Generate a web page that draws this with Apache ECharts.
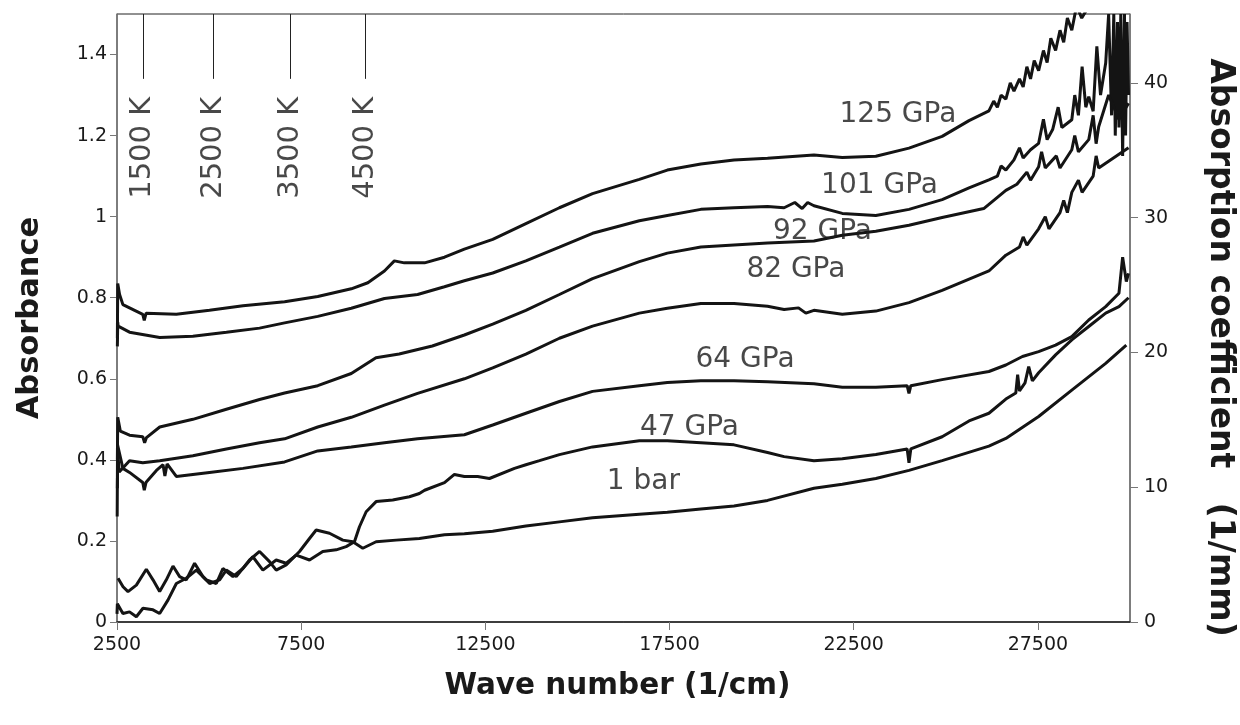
<!DOCTYPE html>
<html>
<head>
<meta charset="utf-8">
<script src="https://cdn.jsdelivr.net/npm/echarts@6/dist/echarts.min.js"></script>
<style>
html,body{margin:0;padding:0;background:#fff;}
#chart{width:1240px;height:725px;}
</style>
</head>
<body>
<div id="chart"></div>
<script>
// ---------- data (wave number cm^-1, absorbance) ----------
const xTicks = [2500, 7500, 12500, 17500, 22500, 27500];
const seriesNames = ['125 GPa','101 GPa','92 GPa','82 GPa','64 GPa','47 GPa','1 bar'];

const p125 = [[2510,0.70],[2520,0.835],[2570,0.808],[2660,0.783],[3200,0.759],[3240,0.744],[3290,0.762],[4110,0.759],[5010,0.769],[5920,0.780],[7050,0.790],[7950,0.803],[8860,0.822],[9310,0.837],[9760,0.866],[10030,0.891],[10300,0.886],[10850,0.886],[11390,0.900],[11930,0.920],[12700,0.944],[13600,0.983],[14510,1.022],[15410,1.057],[16680,1.092],[17440,1.115],[18350,1.130],[19250,1.140],[20160,1.144],[21420,1.152],[22190,1.146],[23100,1.149],[24000,1.169],[24900,1.198],[25630,1.237],[26170,1.261],[26300,1.285],[26400,1.270],[26500,1.300],[26630,1.290],[26750,1.330],[26850,1.310],[27000,1.340],[27100,1.320],[27200,1.370],[27300,1.340],[27400,1.385],[27520,1.360],[27650,1.410],[27750,1.380],[27850,1.440],[27980,1.410],[28100,1.460],[28200,1.430],[28300,1.490],[28420,1.460],[28550,1.520],[28690,1.490],[29150,1.56],[29960,1.60]];

const p101 = [[2510,0.68],[2520,0.74],[2530,0.730],[2840,0.715],[3660,0.702],[4560,0.705],[5470,0.715],[6370,0.725],[7050,0.738],[7950,0.754],[8860,0.774],[9760,0.798],[10660,0.808],[11390,0.827],[11930,0.842],[12700,0.861],[13600,0.891],[14510,0.925],[15410,0.959],[16680,0.990],[17440,1.003],[18350,1.018],[19250,1.022],[20160,1.025],[20610,1.022],[20900,1.035],[21100,1.020],[21250,1.035],[21420,1.027],[22190,1.008],[23100,1.003],[24000,1.018],[24900,1.042],[25630,1.071],[26170,1.091],[26400,1.100],[26500,1.125],[26630,1.115],[26850,1.140],[27000,1.170],[27100,1.145],[27300,1.165],[27520,1.181],[27650,1.240],[27750,1.190],[27900,1.215],[28050,1.270],[28150,1.220],[28420,1.239],[28500,1.300],[28600,1.250],[28700,1.370],[28800,1.270],[28880,1.296],[29000,1.26],[29100,1.42],[29200,1.30],[29340,1.379],[29420,1.50],[29500,1.25],[29560,1.50],[29600,1.20],[29660,1.48],[29700,1.22],[29750,1.50],[29800,1.15],[29850,1.50],[29880,1.20],[29920,1.48],[29960,1.30]];

const p92 = [[2510,0.40],[2520,0.505],[2590,0.471],[2840,0.461],[3200,0.457],[3250,0.442],[3300,0.455],[3660,0.481],[4560,0.500],[5470,0.525],[6370,0.549],[7050,0.565],[7950,0.583],[8860,0.613],[9530,0.652],[10160,0.661],[11060,0.681],[11930,0.708],[12700,0.735],[13600,0.769],[14510,0.808],[15410,0.847],[16680,0.889],[17440,0.910],[18350,0.925],[19250,0.930],[20160,0.935],[21420,0.940],[22190,0.954],[23100,0.964],[24000,0.979],[24900,0.998],[26030,1.020],[26630,1.065],[26930,1.080],[27200,1.110],[27300,1.090],[27520,1.123],[27600,1.160],[27700,1.120],[28000,1.150],[28100,1.120],[28420,1.165],[28500,1.200],[28600,1.160],[28880,1.19],[29000,1.25],[29080,1.18],[29150,1.222],[29420,1.30],[29700,1.24],[29960,1.28]];

const p82 = [[2510,0.33],[2520,0.42],[2560,0.37],[2840,0.398],[3200,0.393],[3660,0.398],[4560,0.410],[5470,0.427],[6370,0.442],[7050,0.452],[7950,0.481],[8860,0.505],[9760,0.535],[10660,0.564],[11930,0.600],[12700,0.627],[13600,0.661],[14510,0.700],[15410,0.730],[16680,0.762],[17440,0.774],[18350,0.786],[19250,0.786],[20160,0.779],[20610,0.771],[21000,0.775],[21200,0.762],[21420,0.769],[22190,0.759],[23100,0.767],[24000,0.788],[24900,0.818],[26170,0.866],[26630,0.905],[27000,0.925],[27100,0.950],[27200,0.930],[27520,0.970],[27700,1.000],[27800,0.970],[28100,1.010],[28200,1.040],[28300,1.010],[28420,1.060],[28600,1.090],[28700,1.060],[29000,1.100],[29080,1.150],[29150,1.120],[29960,1.170]];

const p64 = [[2505,0.26],[2515,0.437],[2660,0.379],[2840,0.369],[3200,0.344],[3240,0.325],[3290,0.345],[3570,0.374],[3750,0.388],[3800,0.360],[3860,0.390],[4110,0.359],[5010,0.369],[5920,0.379],[7050,0.395],[7950,0.422],[8860,0.432],[9760,0.442],[10660,0.452],[11930,0.462],[12700,0.486],[13600,0.515],[14510,0.544],[15410,0.569],[16680,0.583],[17440,0.591],[18350,0.595],[19250,0.595],[20160,0.593],[21420,0.588],[22190,0.579],[23100,0.579],[23950,0.583],[24000,0.564],[24050,0.583],[24900,0.598],[26170,0.618],[26630,0.634],[27080,0.655],[27520,0.667],[27980,0.683],[28420,0.704],[28880,0.745],[29340,0.778],[29700,0.811],[29800,0.900],[29900,0.840],[29960,0.860]];

const p47 = [[2500,0.020],[2510,0.045],[2660,0.021],[2840,0.025],[3025,0.013],[3205,0.034],[3477,0.030],[3658,0.021],[3883,0.054],[4111,0.095],[4381,0.108],[4653,0.128],[4925,0.104],[5196,0.095],[5375,0.132],[5646,0.112],[5917,0.132],[6188,0.161],[6460,0.128],[6822,0.153],[7093,0.145],[7365,0.165],[7726,0.153],[8087,0.174],[8450,0.178],[8721,0.186],[8946,0.198],[9082,0.235],[9264,0.272],[9534,0.297],[9985,0.301],[10438,0.309],[10709,0.317],[10850,0.325],[11390,0.344],[11660,0.364],[11930,0.359],[12290,0.359],[12610,0.354],[13290,0.379],[13600,0.388],[13970,0.398],[14510,0.413],[15410,0.432],[16680,0.447],[17440,0.447],[18350,0.442],[19250,0.437],[20160,0.418],[20610,0.408],[21420,0.398],[22190,0.403],[23100,0.413],[23950,0.427],[24000,0.393],[24050,0.427],[24900,0.457],[25630,0.496],[26170,0.515],[26630,0.550],[26900,0.565],[26950,0.610],[27000,0.570],[27150,0.590],[27250,0.630],[27350,0.595],[27520,0.615],[27980,0.659],[28420,0.696],[28880,0.729],[29340,0.762],[29700,0.778],[29960,0.800]];

const p1bar = [[2528,0.108],[2664,0.087],[2799,0.075],[3025,0.091],[3296,0.130],[3477,0.104],[3658,0.075],[3839,0.104],[4020,0.138],[4200,0.112],[4381,0.104],[4607,0.145],[4833,0.112],[5014,0.095],[5285,0.104],[5466,0.128],[5737,0.112],[6099,0.153],[6370,0.174],[6641,0.149],[6822,0.128],[7093,0.141],[7455,0.174],[7726,0.206],[7907,0.227],[8268,0.219],[8630,0.202],[8901,0.198],[9172,0.182],[9534,0.198],[10077,0.202],[10709,0.206],[11390,0.215],[11930,0.218],[12700,0.224],[13600,0.237],[14510,0.247],[15410,0.257],[16680,0.266],[17440,0.271],[18350,0.279],[19250,0.286],[20160,0.300],[21420,0.330],[22190,0.340],[23100,0.354],[24000,0.374],[24900,0.398],[26170,0.434],[26630,0.453],[27520,0.507],[28420,0.572],[29340,0.638],[29900,0.683]];

// curve labels: [wave number, absorbance, text]
const curveLabels = [[23700,1.251,'125 GPa'],[23200,1.076,'101 GPa'],[21650,0.962,'92 GPa'],[20930,0.868,'82 GPa'],[19550,0.648,'64 GPa'],[18040,0.479,'47 GPa'],[16790,0.345,'1 bar']];

// temperature markers (wave number of marker), label text
const tempX = [3200, 5110, 7210, 9250];
const tempText = ['1500 K','2500 K','3500 K','4500 K'];
const tempLineTop = 1.5, tempLineBottom = 1.34, tempLabelY = 1.17;

const allData = [p125, p101, p92, p82, p64, p47, p1bar];

const FONT = 'DejaVu Sans';
const INK = '#1a1a1a';
const chart = echarts.init(document.getElementById('chart'), null, {renderer:'canvas'});

const lineSeries = allData.map((d, i) => ({
  name: seriesNames[i],
  type: 'line',
  data: d,
  showSymbol: false,
  symbol: 'none',
  lineStyle: {color: '#141414', width: 3},
  silent: true,
  z: 3
}));

const option = {
  animation: false,
  backgroundColor: '#fff',
  grid: {left: 117, right: 110, top: 14, bottom: 103, outerBoundsMode: 'none', containLabel: false,
    show: true, borderColor: '#222', borderWidth: 1},
  xAxis: {
    type: 'value', min: 2500, max: 30000, interval: 5000,
    name: 'Wave number (1/cm)', nameLocation: 'middle', nameGap: 49,
    nameTextStyle: {fontFamily: FONT, fontWeight: 'bold', fontSize: 29.5, color: INK, padding: [0, 12, 0, 0]},
    axisLine: {show: true, lineStyle: {color: '#222', width: 1.5}},
    axisTick: {show: true, inside: false, length: 8, lineStyle: {color: '#777'}},
    axisLabel: {show: true, showMaxLabel: false, fontFamily: FONT, fontSize: 19, color: INK, margin: 14,
      formatter: v => String(v)},
    splitLine: {show: false}
  },
  yAxis: [{
    type: 'value', min: 0, max: 1.5, interval: 0.2, position: 'left',
    name: 'Absorbance', nameLocation: 'middle', nameGap: 71, nameRotate: 90,
    nameTextStyle: {fontFamily: FONT, fontWeight: 'bold', fontSize: 30.5, color: INK},
    axisLine: {show: true, lineStyle: {color: '#777', width: 1.5}},
    axisTick: {show: true, inside: false, length: 7, lineStyle: {color: '#777'}},
    axisLabel: {show: true, showMaxLabel: false, fontFamily: FONT, fontSize: 19, color: INK, margin: 10,
      formatter: v => String(Math.round(v*10)/10)},
    splitLine: {show: false}
  },{
    type: 'value', min: 0, max: 45.1, interval: 10, position: 'right',
    name: 'Absorption coefficient   (1/mm)', nameLocation: 'middle', nameGap: 73, nameRotate: -90,
    nameTextStyle: {fontFamily: FONT, fontWeight: 'bold', fontSize: 33, color: INK, padding: [0, 0, 0, 59]},
    axisLine: {show: true, lineStyle: {color: '#777', width: 1.5}},
    axisTick: {show: true, inside: false, length: 8, lineStyle: {color: '#777'}},
    axisLabel: {show: true, showMaxLabel: false, fontFamily: FONT, fontSize: 19, color: INK, margin: 14},
    splitLine: {show: false}
  }],
  series: [
    ...lineSeries,
    {
      type: 'scatter', name: 'curveLabels', silent: true,
      data: curveLabels, symbolSize: 0,
      label: {show: true, position: 'inside', formatter: p => p.value[2],
        fontFamily: FONT, fontSize: 28, color: INK},
      z: 5
    },
    {
      type: 'scatter', name: 'tempLabels', silent: true,
      data: tempX.map((x, i) => [x, tempLabelY, tempText[i]]), symbolSize: 0,
      label: {show: true, position: 'inside', rotate: 90, formatter: p => p.value[2],
        fontFamily: FONT, fontSize: 29, color: INK},
      markLine: {
        silent: true, symbol: 'none', animation: false,
        label: {show: false},
        lineStyle: {color: '#222', width: 1, type: 'solid'},
        data: tempX.map(x => [{coord: [x, tempLineTop]}, {coord: [x, tempLineBottom]}])
      },
      z: 5
    }
  ]
};
chart.setOption(option);
</script>
</body>
</html>
